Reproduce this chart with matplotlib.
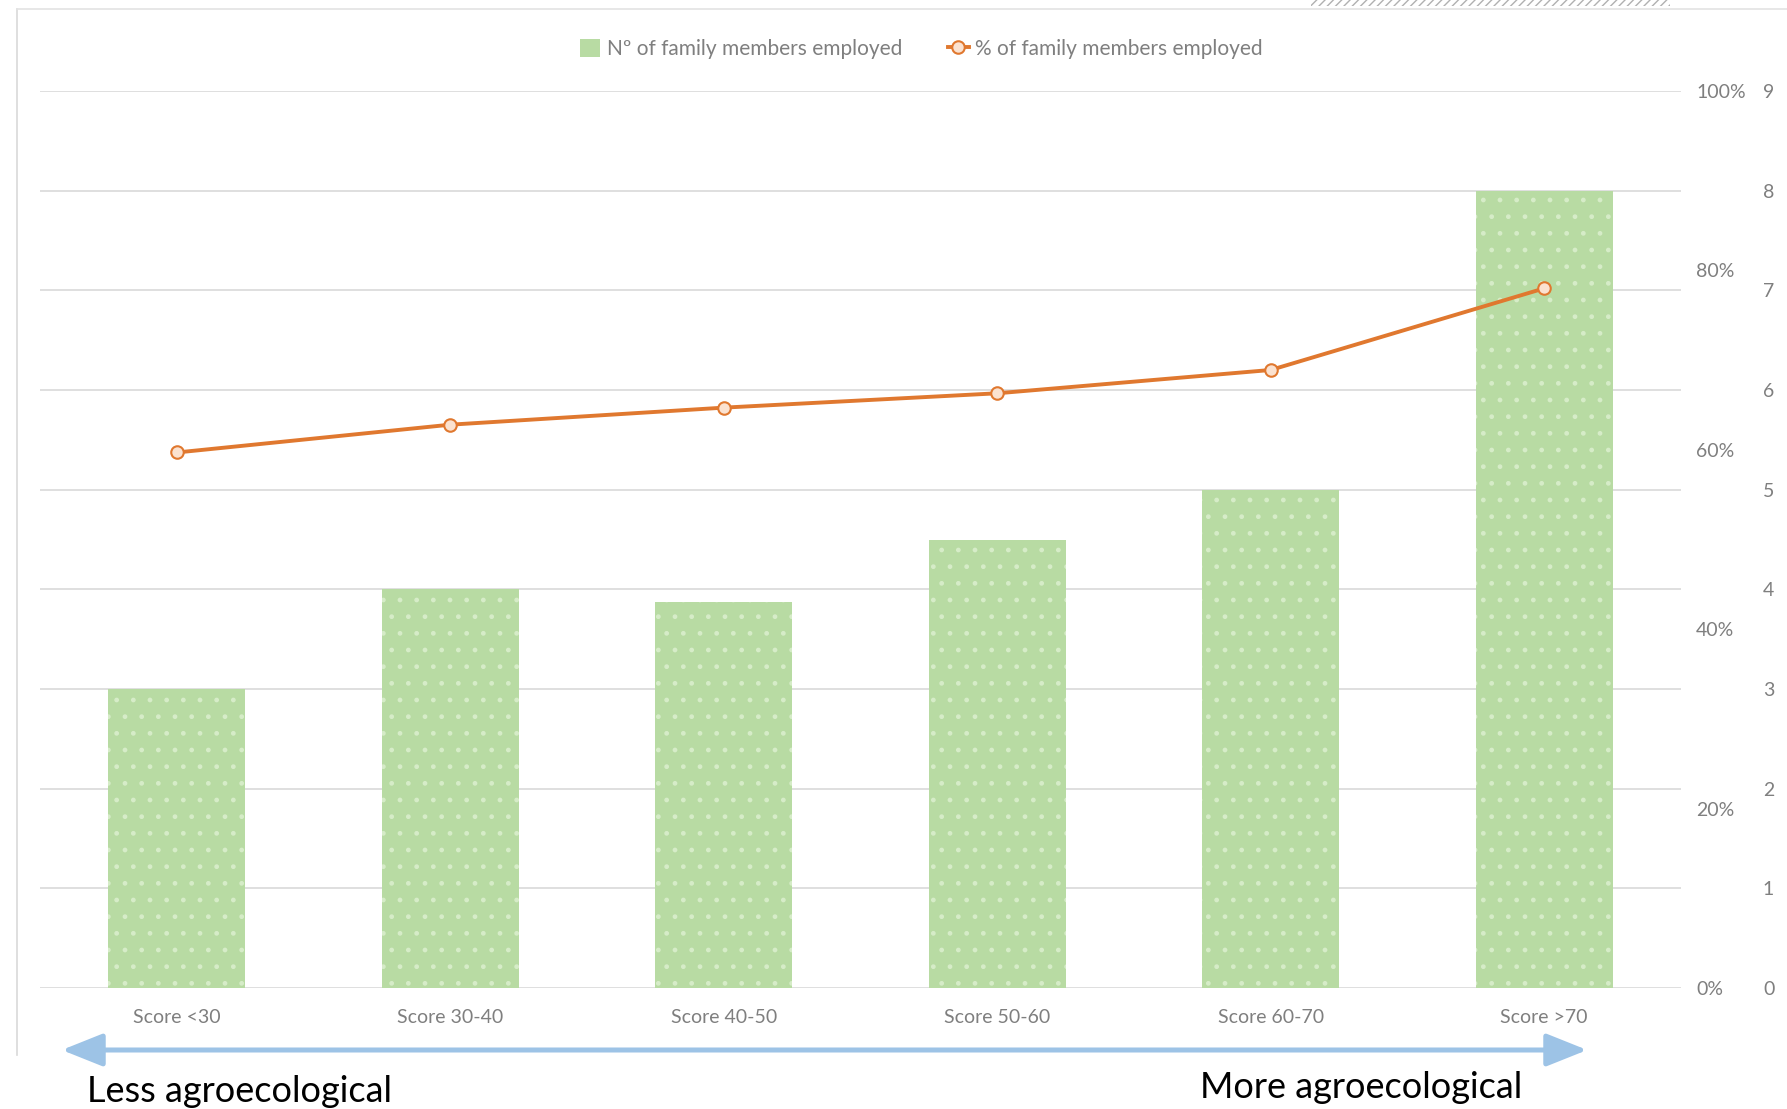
import numpy as np
import matplotlib
matplotlib.use("Agg")
import matplotlib.pyplot as plt
from matplotlib.patches import FancyArrowPatch, Rectangle, ArrowStyle
from matplotlib.lines import Line2D
from matplotlib.ticker import PercentFormatter

# data
categories = ["Score <30", "Score 30-40", "Score 40-50", "Score 50-60", "Score 60-70", "Score >70"]
members = [3, 4, 3.87, 4.5, 5, 8]
pct_members = [0.597, 0.628, 0.647, 0.663, 0.689, 0.780]
count_ticks = list(range(10))
pct_ticks = [0, 0.2, 0.4, 0.6, 0.8, 1.0]

plt.rcParams["font.family"] = ["Lato", "DejaVu Sans"]
grey = "#7f7f7f"
green = "#b8dba3"
orange = "#e0782f"

W, H = 1787, 1109
fig = plt.figure(figsize=(W / 100, H / 100), dpi=100)
ax = fig.add_axes([40 / W, 1 - 988 / H, (1681 - 40) / W, (988 - 91) / H])

x = np.arange(len(categories))
ax.bar(x, members, width=0.5, color=green, edgecolor="#d6ecc8", linewidth=0,
       hatch=".", zorder=2)
ax.set_xlim(-0.5, 5.5)
ax.set_ylim(0, 9)
ax.set_xticks(x, categories)
ax.tick_params(axis="x", length=0, pad=15, labelsize=14, labelcolor=grey)
for s in ax.spines.values():
    s.set_visible(False)

ax2 = ax.twinx()
ax2.plot(x, pct_members, color=orange, lw=2.8, marker="o", markersize=9,
         mfc="#fbe2d0", mec=orange, mew=1.5, zorder=3)
ax2.set_ylim(0, 1)
ax2.set_yticks(pct_ticks)
ax2.yaxis.set_major_formatter(PercentFormatter(1, decimals=0))
ax2.tick_params(axis="y", length=0, pad=11, labelsize=14, labelcolor=grey)
for s in ax2.spines.values():
    s.set_visible(False)

# count axis also on the right, outside the percent labels (after twinx)
ax.set_yticks(count_ticks)
ax.grid(axis="y", color="#d9d9d9", lw=1.2)
ax.set_axisbelow(True)
ax.yaxis.tick_right()
ax.tick_params(axis="y", length=0, pad=59, labelsize=14, labelcolor=grey)

handles = [
    Rectangle((0, 0), 1, 1, facecolor=green, edgecolor="none"),
    Line2D([], [], color=orange, lw=2.8, marker="o", markersize=9,
           mfc="#fbe2d0", mec=orange, mew=1.5),
]
fig.legend(handles, ["N\u00ba of family members employed", "% of family members employed"],
           loc="center", bbox_to_anchor=(921 / W, 1 - 49 / H), ncol=2, frameon=False,
           fontsize=15, labelcolor=grey, handlelength=1.0, handleheight=1.0,
           columnspacing=2.2, handletextpad=0.3)

# chart frame
fig.add_artist(Line2D([17 / W, 17 / W], [1 - 9 / H, 1 - 1055 / H],
                      transform=fig.transFigure, color="#d9d9d9", lw=1.2))
fig.add_artist(Line2D([17 / W, 1], [1 - 9 / H, 1 - 9 / H],
                      transform=fig.transFigure, color="#e3e3e3", lw=1.2))
fig.add_artist(Rectangle((1311 / W, 1 - 6 / H), (1670 - 1311) / W, 8 / H,
                         transform=fig.transFigure, facecolor="none",
                         edgecolor="#b0b0b0", hatch="////", lw=0))

# agroecology arrow
arrow = FancyArrowPatch((59 / W, 1 - 1050 / H), (1590 / W, 1 - 1050 / H),
                        transform=fig.transFigure,
                        arrowstyle=ArrowStyle("<|-|>", head_length=25, head_width=10),
                        mutation_scale=1, color="#9dc3e6", lw=3.6)
fig.add_artist(arrow)
fig.text(87 / W, 1 - 1091 / H, "Less agroecological", fontsize=26,
         ha="left", va="center", color="black")
fig.text(1361 / W, 1 - 1087 / H, "More agroecological", fontsize=26,
         ha="center", va="center", color="black")

fig.savefig("out.png", dpi=100)
